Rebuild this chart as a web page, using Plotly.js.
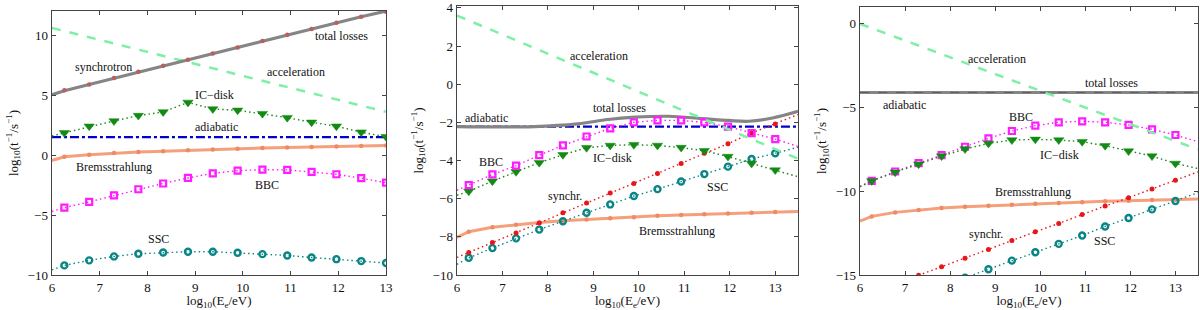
<!DOCTYPE html>
<html>
<head>
<meta charset="utf-8">
<script src="https://cdn.plot.ly/plotly-3.0.1.min.js"></script>
<style>html,body{margin:0;padding:0;background:#fff;} #chart{width:1200px;height:310px;}</style>
</head>
<body>
<div id="chart"></div>
<script>
// ---------- data ----------
// common energy grid (log10 E_e / eV); first/last entries are curve end points without markers
const X1 = [6, 6.26, 6.78, 7.30, 7.81, 8.33, 8.85, 9.37, 9.89, 10.41, 10.93, 11.44, 11.96, 12.48, 13.0];
const X23 = [6, 6.26, 6.78, 7.30, 7.81, 8.33, 8.85, 9.37, 9.89, 10.41, 10.93, 11.44, 11.96, 12.48, 13.0, 13.5];

// panel 1
const p1_total = [5.03, 5.36, 5.88, 6.40, 6.92, 7.43, 7.94, 8.46, 8.97, 9.49, 10.0, 10.51, 11.02, 11.53, 12.0];
const p1_sync  = [5.03, 5.40, 5.89, 6.42, 6.94, 7.44, 7.94, 8.47, 8.97, 9.50, 10.03, 10.50, 11.03, 11.53, 11.94];
const p1_accX  = [6, 13];
const p1_acc   = [10.6, 3.6];
const p1_ic    = [1.6, 1.85, 2.40, 2.84, 3.29, 3.59, 4.39, 3.84, 3.73, 3.45, 3.12, 2.73, 2.40, 1.91, 1.52];
const p1_adiX  = [6, 13];
const p1_adi   = [1.5, 1.5];
const p1_brems = [-0.45, -0.14, 0.03, 0.17, 0.25, 0.32, 0.40, 0.46, 0.52, 0.58, 0.63, 0.68, 0.72, 0.76, 0.80];
const p1_bbc   = [-4.7, -4.39, -3.90, -3.37, -2.85, -2.37, -1.91, -1.52, -1.30, -1.22, -1.24, -1.41, -1.60, -1.93, -2.30];
const p1_ssc   = [-9.58, -9.20, -8.78, -8.45, -8.23, -8.12, -8.06, -8.06, -8.15, -8.26, -8.37, -8.54, -8.68, -8.84, -9.00];

// panel 2
const p2_totX  = [6, 7.7, 8.65, 9.32, 9.91, 10.65, 11.39, 11.98, 12.42, 12.94, 13.5];
const p2_total = [-2.22, -2.22, -2.08, -1.85, -1.73, -1.68, -1.80, -1.90, -1.94, -1.77, -1.42];
const p2_accX  = [6, 13.5];
const p2_acc   = [3.6, -3.9];
const p2_adiX  = [6, 13.5];
const p2_adi   = [-2.22, -2.22];
const p2_bbc   = [-5.56, -5.29, -4.73, -4.27, -3.72, -3.21, -2.74, -2.31, -2.00, -1.89, -1.90, -2.00, -2.22, -2.56, -2.88, -3.26];
const p2_ic    = [-5.82, -5.61, -5.08, -4.59, -4.11, -3.70, -3.33, -3.21, -3.17, -3.21, -3.32, -3.49, -3.79, -4.15, -4.50, -4.85];
const p2_sync  = [-9.08, -8.82, -8.29, -7.80, -7.27, -6.74, -6.23, -5.70, -5.20, -4.68, -4.15, -3.62, -3.12, -2.56, -2.08, -1.59];
const p2_ssc   = [-9.44, -9.10, -8.59, -8.08, -7.62, -7.18, -6.74, -6.30, -5.86, -5.50, -5.10, -4.71, -4.32, -3.92, -3.62, -3.30];
const p2_brems = [-8.03, -7.73, -7.50, -7.36, -7.25, -7.16, -7.09, -7.02, -6.97, -6.90, -6.85, -6.81, -6.77, -6.74, -6.70, -6.67];

// panel 3
const p3_accX  = [6, 13.5];
const p3_acc   = [0.0, -7.5];
const p3_totX  = [6, 13.5];
const p3_total = [-4.1, -4.1];
const p3_adi   = [-4.1, -4.1];
const p3_bbc   = [-9.70, -9.38, -8.82, -8.32, -7.84, -7.34, -6.84, -6.40, -6.08, -5.88, -5.82, -5.88, -6.04, -6.30, -6.64, -7.04];
const p3_ic    = [-9.74, -9.38, -8.86, -8.38, -7.90, -7.48, -7.14, -6.94, -6.90, -6.94, -7.04, -7.28, -7.60, -7.90, -8.34, -8.64];
const p3_sync  = [null, null, null, -15.02, -14.50, -14.00, -13.48, -12.94, -12.42, -11.92, -11.38, -10.88, -10.38, -9.86, -9.34, -8.84];
const p3_ssc   = [null, null, null, null, null, -15.16, -14.66, -14.14, -13.64, -13.14, -12.64, -12.10, -11.60, -11.08, -10.58, -10.08];
const p3_brems = [-11.78, -11.50, -11.26, -11.12, -11.00, -10.92, -10.86, -10.80, -10.74, -10.70, -10.66, -10.60, -10.56, -10.52, -10.50, -10.46];

// labels: [text, x, y]
const p1_labels = [["total losses", 12.07, 9.94], ["synchrotron", 7.09, 7.37], ["acceleration", 11.12, 6.9],
  ["IC−disk", 9.4, 4.97], ["adiabatic", 9.45, 2.35], ["Bremsstrahlung", 7.29, -1.02], ["BBC", 10.5, -2.49], ["SSC", 8.23, -6.98]];
const p2_labels = [["acceleration", 9.13, 1.5], ["total losses", 9.58, -1.27], ["adiabatic", 6.66, -1.77],
  ["BBC", 6.75, -4.06], ["IC−disk", 9.41, -3.85], ["synchr.", 8.37, -5.86], ["SSC", 11.72, -5.38], ["Bremsstrahlung", 10.83, -7.67]];
const p3_labels = [["acceleration", 9.04, -2.08], ["total losses", 11.58, -3.54], ["adiabatic", 6.98, -4.84],
  ["BBC", 9.57, -5.54], ["IC−disk", 10.43, -7.84], ["Bremsstrahlung", 9.83, -10.04], ["synchr.", 8.79, -12.58], ["SSC", 11.43, -12.94]];

// ---------- styles ----------
const C = {
  total: '#858585', acc: '#7df0a6', ic: '#138a13', adi: '#0000c8',
  brems: '#f5a07c', bbc: '#ff1cff', sync: '#e8161c', ssc: '#0a8585'
};
const FONT = 'Liberation Serif, DejaVu Serif, serif';

const traces = [];
function lineTrace(x, y, ax, color, width, dash, extra) {
  traces.push(Object.assign({type: 'scatter', mode: 'lines', x: x, y: y, xaxis: 'x' + ax, yaxis: 'y' + ax,
    line: {color: color, width: width, dash: dash}, hoverinfo: 'skip', showlegend: false, connectgaps: false}, extra || {}));
}
function markTrace(x, y, ax, symbol, color, size, lineW, lineColor) {
  // markers only at the grid points inside the curve (skip the end points 6 and 13.5)
  const mx = [], my = [];
  for (let i = 0; i < x.length; i++) {
    if (x[i] > 6.01 && x[i] < 13.01 && y[i] !== null) { mx.push(x[i]); my.push(y[i]); }
  }
  traces.push({type: 'scatter', mode: 'markers', x: mx, y: my, xaxis: 'x' + ax, yaxis: 'y' + ax,
    marker: {symbol: symbol, color: color, size: size, line: {width: lineW, color: lineColor || color}},
    hoverinfo: 'skip', showlegend: false, cliponaxis: true});
}
const DOT = '1.5px,3px';

// panel 1
lineTrace(X1, p1_bbc, '', C.bbc, 1.4, DOT);
markTrace(X1, p1_bbc, '', 'square-open', C.bbc, 6, 2.2);
lineTrace(X1, p1_ssc, '', C.ssc, 1.4, DOT);
markTrace(X1, p1_ssc, '', 'circle-open', C.ssc, 6, 2.4);
lineTrace(p1_adiX, p1_adi, '', C.adi, 2.2, 'dashdot');
lineTrace(X1, p1_ic, '', C.ic, 1.4, DOT);
markTrace(X1, p1_ic, '', 'triangle-down', C.ic, 9, 0.5);
lineTrace(X1, p1_brems, '', C.brems, 3, 'solid');
markTrace(X1, p1_brems, '', 'circle', '#f08a66', 4.5, 0);
lineTrace(p1_accX, p1_acc, '', C.acc, 2.5, 'dash');
lineTrace(X1, p1_total, '', C.total, 3.2, 'solid');
markTrace(X1, p1_sync, '', 'circle', '#b86060', 4.5, 0);

// panel 2
lineTrace(p2_adiX, p2_adi, '2', C.adi, 2.2, 'dashdot');
lineTrace(p2_totX, p2_total, '2', C.total, 3.2, 'solid', {line: {color: C.total, width: 3.2, shape: 'spline'}});
lineTrace(X23, p2_brems, '2', C.brems, 3, 'solid');
markTrace(X23, p2_brems, '2', 'circle', '#f08a66', 4.5, 0);
lineTrace(X23, p2_ssc, '2', C.ssc, 1.4, DOT);
markTrace(X23, p2_ssc, '2', 'circle-open', C.ssc, 6, 2.4);
lineTrace(X23, p2_sync, '2', C.sync, 1.4, DOT);
markTrace(X23, p2_sync, '2', 'circle', C.sync, 5, 0);
lineTrace(X23, p2_ic, '2', C.ic, 1.4, DOT);
markTrace(X23, p2_ic, '2', 'triangle-down', C.ic, 9, 0.5);
lineTrace(X23, p2_bbc, '2', C.bbc, 1.4, DOT);
markTrace(X23, p2_bbc, '2', 'square-open', C.bbc, 6, 2.2);
lineTrace(p2_accX, p2_acc, '2', C.acc, 2.5, 'dash');

// panel 3
lineTrace(p3_totX, p3_total, '3', C.total, 3.2, 'solid');
lineTrace(p3_totX, p3_adi, '3', '#5e5e66', 1.2, 'dash');
lineTrace(X23, p3_brems, '3', C.brems, 3, 'solid');
markTrace(X23, p3_brems, '3', 'circle', '#f08a66', 4.5, 0);
lineTrace(X23, p3_ssc, '3', C.ssc, 1.4, DOT);
markTrace(X23, p3_ssc, '3', 'circle-open', C.ssc, 6, 2.4);
lineTrace(X23, p3_sync, '3', C.sync, 1.4, DOT);
markTrace(X23, p3_sync, '3', 'circle', C.sync, 5, 0);
lineTrace(X23, p3_bbc, '3', C.bbc, 1.4, DOT);
markTrace(X23, p3_bbc, '3', 'square-open', C.bbc, 6, 2.2);
lineTrace(X23, p3_ic, '3', C.ic, 1.4, DOT);
markTrace(X23, p3_ic, '3', 'triangle-down', C.ic, 9, 0.5);
lineTrace(p3_accX, p3_acc, '3', C.acc, 2.5, 'dash');

// annotations
const annotations = [];
[[p1_labels, ''], [p2_labels, '2'], [p3_labels, '3']].forEach(([labs, ax]) => {
  labs.forEach(([t, x, y]) => annotations.push({text: t, x: x, y: y, xref: 'x' + ax, yref: 'y' + ax,
    showarrow: false, font: {family: FONT, size: 12, color: '#111'}}));
});

const xTitle = {text: 'log<sub>10</sub>(E<sub>e</sub>/eV)', font: {family: FONT, size: 13, color: '#111'}, standoff: 0};
const yTitle = {text: 'log<sub>10</sub>(t<sup>−1</sup>/s<sup>−1</sup>)', font: {family: FONT, size: 13, color: '#111'}, standoff: 6};
function xAx(domain, range, anchor) {
  return {domain: domain, range: range, anchor: anchor, dtick: 1, tick0: 6, ticks: 'inside', ticklen: 4,
    tickcolor: '#444', mirror: 'ticks', showline: true, linecolor: '#444', linewidth: 1.4,
    showgrid: false, zeroline: false, tickfont: {family: FONT, size: 13, color: '#111'}, title: xTitle,
    ticklabelstandoff: 0};
}
function yAx(domain, range, dtick, anchor) {
  return {domain: domain, range: range, anchor: anchor, dtick: dtick, tick0: 0, ticks: 'inside', ticklen: 4,
    tickcolor: '#444', mirror: 'ticks', showline: true, linecolor: '#444', linewidth: 1.4,
    showgrid: false, zeroline: false, tickfont: {family: FONT, size: 13, color: '#111'}, title: yTitle};
}

const layout = {
  width: 1200, height: 310,
  font: {family: FONT},
  margin: {l: 0, r: 0, t: 6, b: 35, pad: 0},
  paper_bgcolor: '#fff', plot_bgcolor: '#fff',
  showlegend: false,
  xaxis:  xAx([0.0433, 0.3217], [6, 13], 'y'),
  xaxis2: xAx([0.3808, 0.665], [6, 13.5], 'y2'),
  xaxis3: xAx([0.7167, 0.9983], [6, 13.5], 'y3'),
  yaxis:  yAx([0, 0.981], [-10, 12], 5, 'x'),
  yaxis2: yAx([0, 1], [-10, 4.1], 2, 'x2'),
  yaxis3: yAx([0, 0.996], [-15, 1], 5, 'x3'),
  annotations: annotations
};

Plotly.newPlot('chart', traces, layout, {staticPlot: true, displayModeBar: false});
</script>
</body>
</html>
